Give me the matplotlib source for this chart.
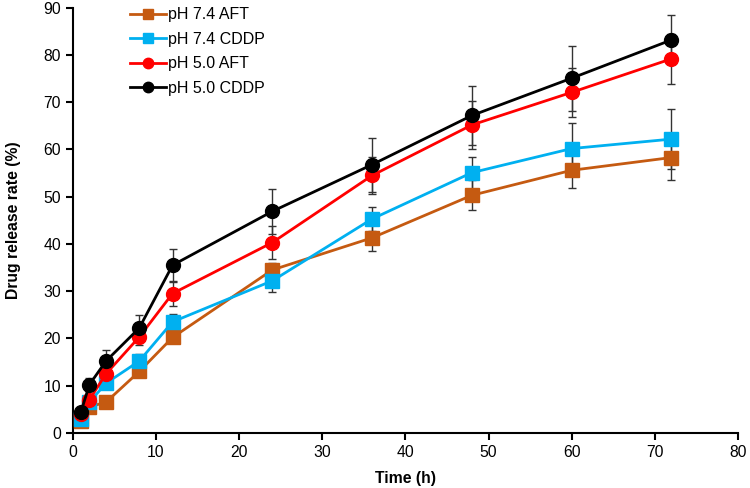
import matplotlib.pyplot as plt

plt.rcParams['font.family'] = ['Liberation Sans', 'DejaVu Sans']

# Release time points (h)
time_h = [1, 2, 4, 8, 12, 24, 36, 48, 60, 72]

# Cumulative release (%)
ph74_aft = [2.5, 5.5, 6.5, 13.0, 20.2, 34.5, 41.3, 50.3, 55.6, 58.3]
ph74_cddp = [3.0, 6.5, 10.5, 15.2, 23.5, 32.2, 45.3, 55.1, 60.2, 62.2]
ph50_aft = [4.0, 7.0, 12.5, 20.3, 29.5, 40.3, 54.5, 65.2, 72.1, 79.2]
ph50_cddp = [4.5, 10.2, 15.2, 22.2, 35.5, 46.9, 56.8, 67.2, 75.1, 83.2]

# Standard deviations (estimated)
ph74_aft_err = [0.4, 0.6, 0.6, 1.0, 1.2, 1.5, 2.7, 3.2, 3.7, 4.7]
ph74_cddp_err = [0.5, 0.8, 0.9, 1.5, 1.6, 2.4, 2.6, 3.4, 5.5, 6.4]
ph50_aft_err = [0.5, 0.8, 1.2, 1.8, 2.6, 3.5, 3.9, 5.0, 5.2, 5.3]
ph50_cddp_err = [0.6, 1.4, 2.4, 2.8, 3.5, 4.7, 5.7, 6.3, 6.9, 5.2]

labels = ['pH 7.4 AFT', 'pH 7.4 CDDP', 'pH 5.0 AFT', 'pH 5.0 CDDP']
colors = ['#C55A11', '#00B0F0', '#FF0000', '#000000']
markers = ['s', 's', 'o', 'o']
series = [ph74_aft, ph74_cddp, ph50_aft, ph50_cddp]
errors = [ph74_aft_err, ph74_cddp_err, ph50_aft_err, ph50_cddp_err]

fig = plt.figure(figsize=(7.5, 4.88), dpi=100)
ax = fig.add_axes([0.097, 0.113, 0.887, 0.871])

handles = []
for y, err, c, m, lab in zip(series, errors, colors, markers, labels):
    ax.errorbar(time_h, y, yerr=err, fmt='none', ecolor='#333333',
                elinewidth=1.0, capsize=3, capthick=1.0, zorder=2)
    h, = ax.plot(time_h, y, color=c, marker=m, markersize=10, linewidth=2,
                 label=lab, zorder=3)
    handles.append(h)

ax.set_xlim(0, 80)
ax.set_ylim(0, 90)
ax.set_xticks(range(0, 81, 10))
ax.set_yticks(range(0, 91, 10))
ax.tick_params(axis='both', direction='out', length=5, width=1.5, labelsize=11.3)

for side in ['top', 'right']:
    ax.spines[side].set_visible(False)
for side in ['left', 'bottom']:
    ax.spines[side].set_linewidth(1.5)

ax.set_xlabel('Time (h)', fontsize=11.3, fontweight='bold', labelpad=8)
ax.set_ylabel('Drug release rate (%)', fontsize=11.3, fontweight='bold', labelpad=16)

ax.legend(handles=handles, loc='upper left', bbox_to_anchor=(0.065, 1.035),
          frameon=False, fontsize=11.5, handlelength=2.2, handletextpad=0.15,
          labelspacing=0.6, markerscale=0.75)

fig.savefig('out.png', dpi=100)
